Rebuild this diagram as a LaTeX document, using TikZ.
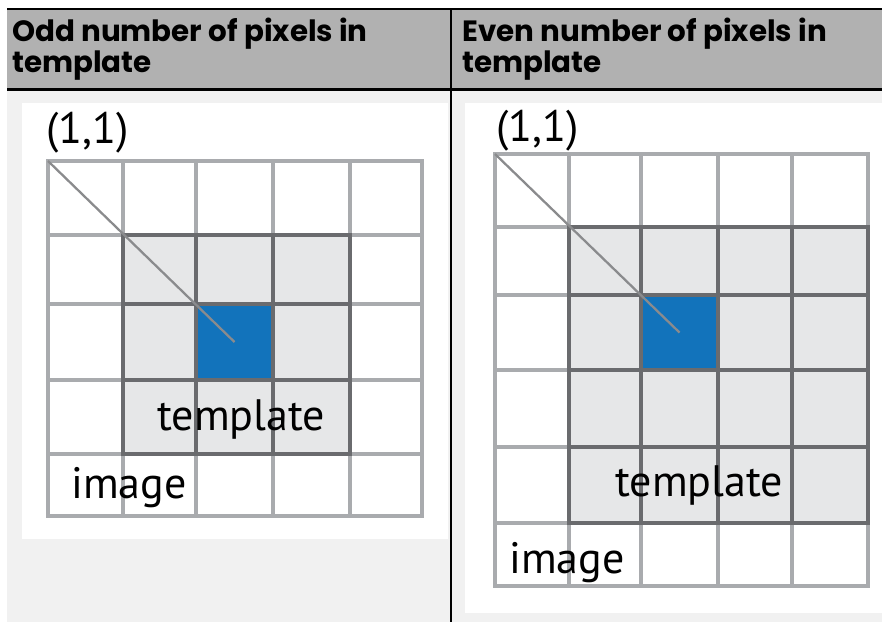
\documentclass[tikz,border=0pt]{standalone}
\usepackage{fontspec}
\setmainfont{PT Sans}
\newfontfamily\headfont{Poppins}
\usetikzlibrary{positioning}
\definecolor{hdrgray}{HTML}{B1B1B1}
\definecolor{cellbg}{HTML}{F1F1F1}
\definecolor{gridgray}{HTML}{A9ABAE}
\definecolor{tmplgray}{HTML}{6A6B6E}
\definecolor{tmplfill}{HTML}{E6E7E8}
\definecolor{pixblue}{HTML}{1273BB}
\definecolor{diaggray}{HTML}{8A8B8D}
\tikzset{
  headtext/.style={anchor=north west,inner sep=0pt,align=left,
                   font=\headfont\bfseries\fontsize{22}{20.5}\selectfont},
  lbl/.style={anchor=base west,inner sep=0pt,text=black,
              font=\fontsize{33}{36}\selectfont},
  rulebk/.style={draw=black,line width=1.8pt},
  imgline/.style={draw=gridgray,line width=2.4pt,line cap=rect},
  tmplline/.style={draw=tmplgray,line width=2.6pt,line cap=rect},
  diag/.style={draw=diaggray,line width=1.7pt}
}
\begin{document}
\begin{tikzpicture}[x=0.75pt,y=-0.75pt]
  \useasboundingbox (0,0) rectangle (882,622);
  % table background and rules
  \fill[hdrgray] (7,9) rectangle (882,90);
  \fill[cellbg] (7,90) rectangle (882,622);
  \fill[white] (22,103) rectangle (448,539);
  \fill[white] (465,103) rectangle (882,613);
  \draw[rulebk] (7,9) -- (882,9);
  \draw[rulebk,line width=2.2pt] (7,89.5) -- (882,89.5);
  \draw[rulebk] (451,9) -- (451,622);
  \node[headtext] (oddhead) at (12,18) {Odd number of pixels in\\template};
  \node[headtext] (evenhead) at (462,18) {Even number of pixels in\\template};

  % odd template: 5x5 image, 3x3 template
  \foreach \x in {48,123,196,273,350,422} \draw[imgline] (\x,161) -- (\x,516);
  \foreach \y in {161,235,304,380,454,516} \draw[imgline] (48,\y) -- (422,\y);
  \fill[tmplfill] (123,235) rectangle (350,454);
  \fill[pixblue] (196,304) rectangle (273,380);
  \foreach \x in {123,196,273,350} \draw[tmplline] (\x,235) -- (\x,454);
  \foreach \y in {235,304,380,454} \draw[tmplline] (123,\y) -- (350,\y);
  \coordinate (oddorigin) at (48,161);
  \coordinate (oddcentre) at (234.5,342);
  \draw[diag] (oddorigin) -- (oddcentre);
  \node[lbl] (oddone) at (46,143) {(1,1)};
  \node[lbl] (oddtmpl) at (157,430) {template};
  \node[lbl] (oddimg) at (71,498) {image};

  % even template: 5x6 image, 4x4 template
  \foreach \x in {495,569,641,718,792,868} \draw[imgline] (\x,154) -- (\x,586);
  \foreach \y in {154,227,295,370,447,523,586} \draw[imgline] (495,\y) -- (868,\y);
  \fill[tmplfill] (569,227) rectangle (868,523);
  \fill[pixblue] (641,295) rectangle (718,370);
  \foreach \x in {569,641,718,792,868} \draw[tmplline] (\x,227) -- (\x,523);
  \foreach \y in {227,295,370,447,523} \draw[tmplline] (569,\y) -- (868,\y);
  \coordinate (evenorigin) at (495,154);
  \coordinate (evencentre) at (679.5,332.5);
  \draw[diag] (evenorigin) -- (evencentre);
  \node[lbl] (evenone) at (496,141) {(1,1)};
  \node[lbl] (eventmpl) at (615,496) {template};
  \node[lbl] (evenimg) at (509,573) {image};
\end{tikzpicture}
\end{document}
